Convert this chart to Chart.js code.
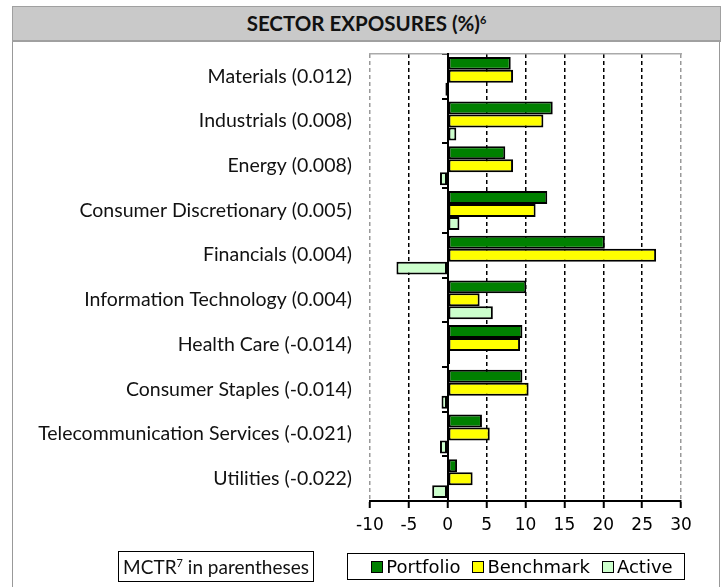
<!DOCTYPE html>
<html>
<head>
<meta charset="utf-8">
<script src="https://cdn.jsdelivr.net/npm/chart.js"></script>
<style>
  body { margin: 0; background: #fff; }
  #wrap { position: relative; width: 721px; height: 587px; overflow: hidden; }
  #frame { position: absolute; left: 12px; top: 6px; width: 706px; height: 600px;
    border-left: 1.5px solid #999; border-right: 1.5px solid #999; }
  #title { position: absolute; left: 12px; top: 6px; width: 707px; height: 33px;
    background: #c9c9c9; border: 1px solid #a0a0a0; border-bottom: 2px solid #a0a0a0;
    font: bold 20.5px Lato, sans-serif; color: #111; text-align: center; line-height: 33px; }
  #title sup { font-size: 11px; vertical-align: 7px; line-height: 0; }
  canvas { position: absolute; left: 0; top: 0; }
  #note { position: absolute; left: 118px; top: 551px; width: 194px; height: 29px;
    border: 1.5px solid #000; font: 19px Lato, sans-serif; color: #111;
    line-height: 29px; text-align: center; white-space: nowrap; }
  #note sup { font-size: 11px; vertical-align: 7px; line-height: 0; }
  #legend { position: absolute; left: 347px; top: 553px; width: 324px; height: 25px;
    padding-left: 12px;
    border: 1.5px solid #000; display: flex; align-items: center; justify-content: center;
    font: 18px "DejaVu Sans", sans-serif; color: #000; white-space: nowrap; }
  #legend span.item { display: flex; align-items: center; margin: 0 6px; }
  #legend span.box { width: 10px; height: 10px; border: 1.5px solid #000; margin-right: 3px; }
</style>
</head>
<body>
<div id="wrap">
  <div id="frame"></div>
  <div id="title">SECTOR EXPOSURES (%)<sup>6</sup></div>
  <canvas id="chart" width="721" height="587"></canvas>
  <div id="note">MCTR<sup>7</sup> in parentheses</div>
  <div id="legend"></div>
</div>
<script>
const sectors = [
  'Materials (0.012)',
  'Industrials (0.008)',
  'Energy (0.008)',
  'Consumer Discretionary (0.005)',
  'Financials (0.004)',
  'Information Technology (0.004)',
  'Health Care (-0.014)',
  'Consumer Staples (-0.014)',
  'Telecommunication Services (-0.021)',
  'Utilities (-0.022)'
];
const portfolio = [8.1, 13.5, 7.4, 12.8, 20.2, 10.1, 9.6, 9.6, 4.4, 1.2];
const benchmark = [8.4, 12.3, 8.4, 11.3, 26.8, 4.1, 9.3, 10.4, 5.4, 3.2];
const active    = [-0.3, 1.1, -1.0, 1.5, -6.6, 5.8, 0.3, -0.8, -1.0, -2.0];
const xMin = -10, xMax = 30, xStep = 5;

const barStyle = {
  borderColor: '#000',
  borderWidth: 2,
  borderSkipped: false,
  categoryPercentage: 0.87,
  barPercentage: 1.0
};

const chart = new Chart(document.getElementById('chart').getContext('2d'), {
  type: 'bar',
  data: {
    labels: sectors,
    datasets: [
      { label: 'Portfolio', data: portfolio, backgroundColor: '#008000', ...barStyle },
      { label: 'Benchmark', data: benchmark, backgroundColor: '#ffff00', ...barStyle },
      { label: 'Active', data: active, backgroundColor: '#ccffcc', ...barStyle }
    ]
  },
  options: {
    indexAxis: 'y',
    responsive: false,
    animation: false,
    layout: { padding: { top: 54, right: 40, bottom: 0, left: 0 } },
    plugins: { legend: { display: false }, tooltip: { enabled: false } },
    scales: {
      x: {
        type: 'linear', min: xMin, max: xMax, position: 'bottom',
        ticks: { stepSize: xStep, color: '#000', padding: 7,
                 font: { family: 'DejaVu Sans', size: 17 } },
        grid: {
          color: ctx => (ctx.tick && (ctx.tick.value === xMin || ctx.tick.value === xMax)) ? '#999' : '#000',
          lineWidth: 1.5, tickColor: '#000', tickLength: 7, tickWidth: 2
        },
        border: { color: '#000', width: 2, dash: [4, 3] },
        afterFit: s => { s.height = 86; }
      },
      xTop: {
        type: 'linear', min: xMin, max: xMax, position: 'top',
        ticks: { display: false }, grid: { display: false },
        border: { color: '#aaa', width: 1.5 },
        afterFit: s => { s.height = 0; }
      },
      y: {
        type: 'category', offset: true,
        ticks: { color: '#111', padding: 18, font: { family: 'Lato', size: 19.5 } },
        grid: { display: false, drawTicks: false },
        border: { display: false },
        afterFit: s => { s.width = 370; }
      },
      yZero: {
        type: 'category', labels: sectors, offset: true, position: { x: 0 },
        ticks: { display: false },
        grid: { drawOnChartArea: false, tickLength: 5, color: '#000', lineWidth: 2 },
        border: { color: '#000', width: 2 },
        afterFit: s => { s.width = 0; }
      }
    }
  }
});

// legend built from the datasets
const legend = document.getElementById('legend');
chart.data.datasets.forEach(ds => {
  const item = document.createElement('span');
  item.className = 'item';
  item.innerHTML = '<span class="box" style="background:' + ds.backgroundColor + '"></span>' + ds.label;
  legend.appendChild(item);
});
</script>
</body>
</html>
